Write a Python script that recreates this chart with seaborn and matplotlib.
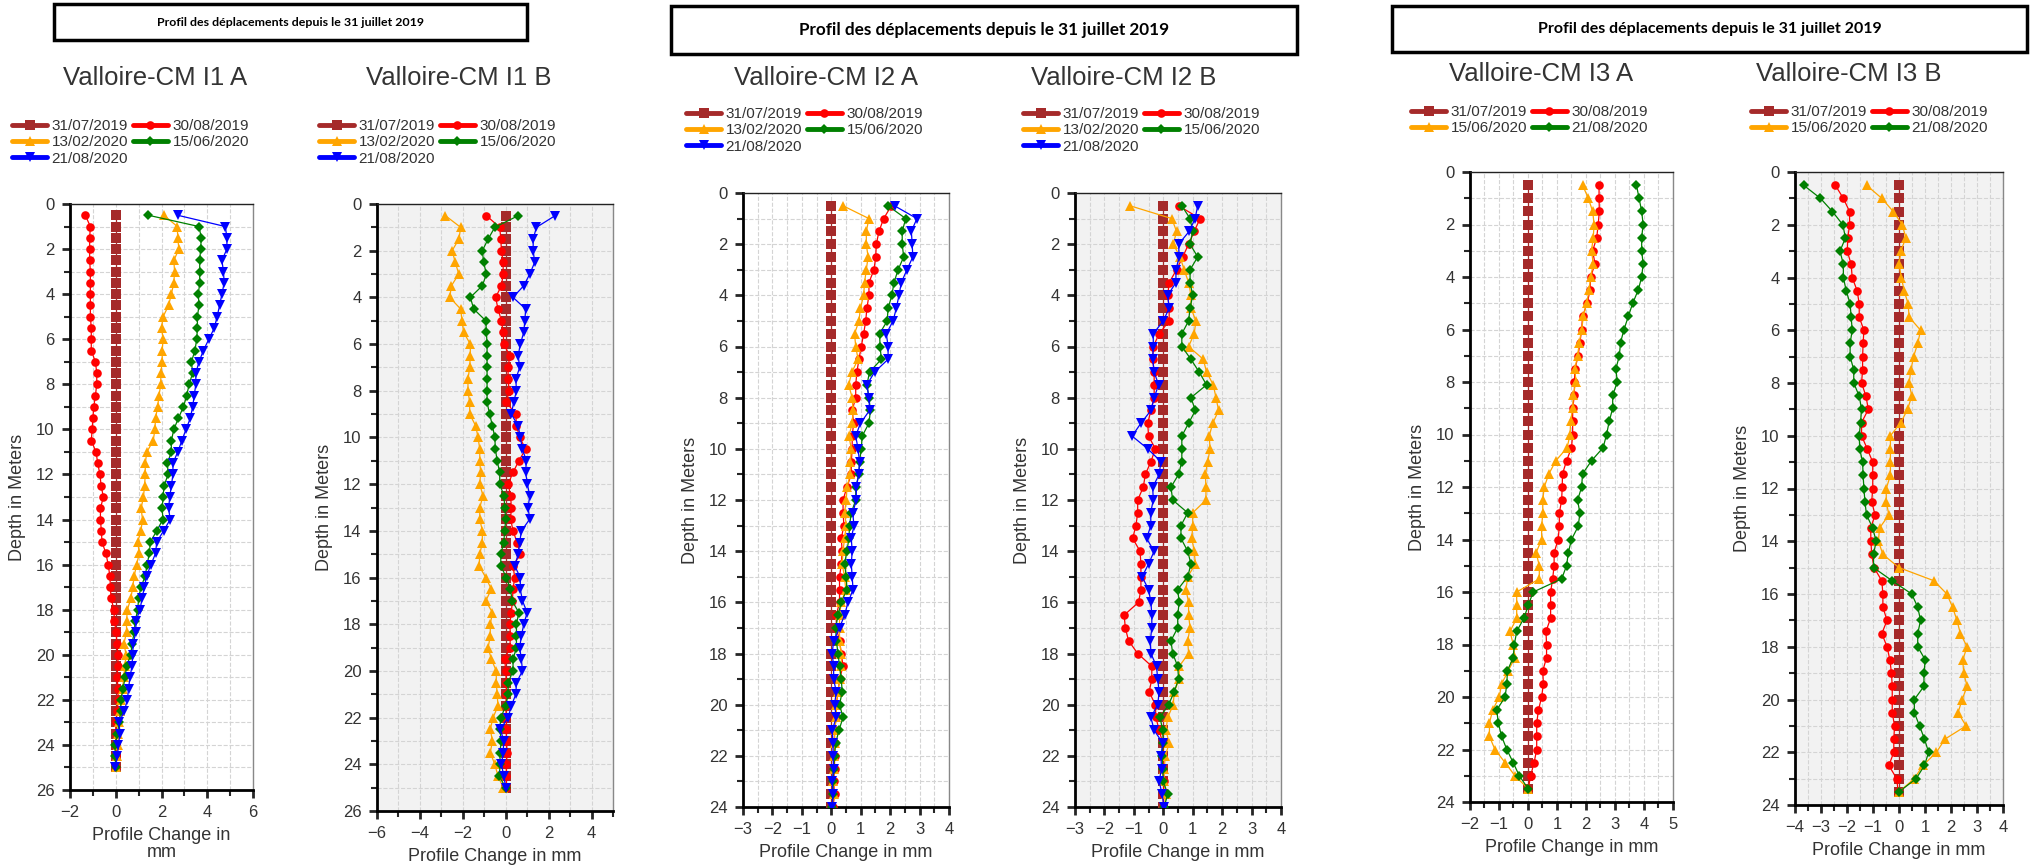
import numpy as np
import pandas as pd
import matplotlib
matplotlib.use('Agg')
import matplotlib.pyplot as plt
import seaborn as sns
from matplotlib.lines import Line2D
from matplotlib.patches import Rectangle
from matplotlib.ticker import MultipleLocator

sns.set_style('white')
plt.rcParams['font.family'] = ['Liberation Sans', 'DejaVu Sans']

W, H = 2031, 867

# measurement depths (m)
depth_i1 = np.arange(0.5, 25.01, 0.5)
depth_i2 = np.arange(0.5, 24.01, 0.5)
depth_i3 = np.arange(0.5, 23.51, 0.5)

dates_5 = ['31/07/2019', '30/08/2019', '13/02/2020', '15/06/2020', '21/08/2020']
dates_4 = ['31/07/2019', '30/08/2019', '15/06/2020', '21/08/2020']

# ---- I1 A ----
red_1a = [-1.33, -1.11, -1.14, -1.14, -1.14, -1.11, -1.11, -1.11, -1.11, -1.11,
          -1.07, -1.07, -1.07, -0.89, -0.83, -0.83, -0.89, -0.96, -1.0, -1.03,
          -1.07, -0.86, -0.79, -0.69, -0.64, -0.54, -0.67, -0.67, -0.63, -0.6,
          -0.43, -0.33, -0.26, -0.23, -0.21, -0.07, -0.07, 0.03, 0.04, 0.1,
          0.09, 0.06, 0.1, 0.1, 0.07, 0.0, 0.0, 0.0, 0.0, 0.0]
orange_1a = [2.11, 2.69, 2.71, 2.76, 2.54, 2.57, 2.54, 2.43, 2.31, 2.07,
             2.0, 2.07, 2.03, 2.03, 1.97, 1.97, 1.89, 1.83, 1.74, 1.71,
             1.64, 1.36, 1.29, 1.29, 1.26, 1.21, 1.11, 1.17, 1.1, 0.96,
             1.03, 0.91, 0.81, 0.74, 0.66, 0.51, 0.47, 0.47, 0.36, 0.45,
             0.4, 0.35, 0.3, 0.25, 0.2, 0.15, 0.12, 0.1, 0.05, 0.0]
green_1a = [1.43, 3.64, 3.74, 3.71, 3.67, 3.67, 3.67, 3.61, 3.64, 3.57,
            3.57, 3.54, 3.46, 3.31, 3.36, 3.21, 3.1, 2.96, 2.74, 2.54,
            2.43, 2.43, 2.26, 2.29, 2.11, 2.07, 2.03, 2.06, 1.79, 1.51,
            1.47, 1.37, 1.29, 1.1, 1.0, 0.96, 0.85, 0.81, 0.71, 0.66,
            0.47, 0.41, 0.32, 0.22, 0.22, 0.15, 0.07, -0.03, -0.03, 0.0]
blue_1a = [2.71, 4.79, 4.86, 4.86, 4.64, 4.71, 4.74, 4.64, 4.54, 4.43,
           4.31, 4.07, 3.83, 3.64, 3.5, 3.5, 3.43, 3.36, 3.26, 3.07,
           2.89, 2.71, 2.5, 2.5, 2.43, 2.36, 2.31, 2.38, 2.09, 1.79,
           1.74, 1.54, 1.35, 1.25, 1.15, 1.06, 0.88, 0.88, 0.76, 0.74,
           0.71, 0.62, 0.56, 0.51, 0.37, 0.15, 0.18, 0.12, 0.07, -0.03]

# ---- I1 B ----
red_1b = [-0.9, -0.28, -0.23, -0.2, -0.12, -0.12, -0.2, -0.47, -0.36, -0.2,
          -0.12, -0.09, 0.19, 0.11, 0.11, 0.16, 0.03, 0.47, 0.5, 0.65,
          0.93, 0.61, 0.34, 0.11, 0.23, 0.26, 0.23, 0.34, 0.53, 0.68,
          0.34, 0.42, 0.34, 0.31, 0.26, 0.19, 0.22, 0.19, -0.05, 0.0,
          0.03, 0.03, 0.0, 0.03, 0.03, 0.03, 0.06, 0.03, 0.03, 0.03]
orange_1b = [-2.81, -2.1, -2.18, -2.5, -2.35, -2.19, -2.53, -2.61, -2.1, -2.04,
             -1.96, -1.65, -1.65, -1.68, -1.76, -1.76, -1.68, -1.68, -1.4, -1.29,
             -1.21, -1.21, -1.17, -1.21, -1.06, -1.21, -1.21, -1.09, -1.09, -1.21,
             -1.24, -0.93, -0.67, -0.93, -0.62, -0.72, -0.72, -0.82, -0.67, -0.44,
             -0.44, -0.4, -0.36, -0.59, -0.72, -0.62, -0.72, -0.51, -0.36, -0.12]
green_1b = [0.58, -0.51, -0.82, -1.09, -1.03, -0.9, -1.09, -1.65, -1.49, -0.93,
            -0.9, -0.87, -0.87, -0.87, -0.87, -0.87, -0.87, -0.75, -0.62, -0.51,
            -0.48, -0.4, -0.28, -0.28, -0.08, -0.05, 0.0, -0.05, -0.09, -0.23,
            -0.23, 0.03, 0.22, 0.3, 0.61, 0.5, 0.5, 0.5, 0.34, 0.34,
            0.11, 0.11, 0.0, -0.23, -0.28, -0.2, -0.28, -0.25, -0.31, 0.0]
blue_1b = [2.3, 1.43, 1.28, 1.28, 1.35, 1.12, 0.84, 0.34, 0.93, 0.89,
           0.84, 0.68, 0.58, 0.65, 0.47, 0.5, 0.37, 0.26, 0.58, 0.68,
           0.78, 0.96, 0.93, 1.01, 1.12, 1.04, 1.12, 0.73, 0.65, 0.58,
           0.42, 0.68, 0.68, 0.78, 1.0, 0.84, 0.73, 0.65, 0.73, 0.78,
           0.5, 0.47, 0.26, 0.11, -0.25, -0.09, -0.12, -0.2, -0.09, 0.0]

# ---- I2 A ----
red_2a = [2.04, 1.78, 1.62, 1.53, 1.51, 1.45, 1.28, 1.28, 1.21, 1.17,
          1.1, 1.02, 0.94, 0.87, 0.83, 0.83, 0.71, 0.76, 0.71, 0.71,
          0.68, 0.68, 0.53, 0.4, 0.4, 0.43, 0.34, 0.37, 0.34, 0.28,
          0.28, 0.28, 0.17, 0.17, 0.28, 0.34, 0.4, 0.28, 0.23, 0.17,
          0.17, 0.11, 0.11, 0.11, 0.11, 0.08, 0.11, 0.06]
orange_2a = [0.4, 1.28, 1.19, 1.19, 1.25, 1.19, 1.13, 1.1, 0.99, 0.94,
             0.79, 0.83, 0.91, 0.7, 0.59, 0.71, 0.74, 0.71, 0.6, 0.68,
             0.65, 0.65, 0.53, 0.51, 0.45, 0.51, 0.45, 0.4, 0.37, 0.45,
             0.49, 0.34, 0.28, 0.28, 0.28, 0.34, 0.34, 0.28, 0.23, 0.17,
             0.17, 0.11, 0.11, 0.08, 0.08, 0.06, 0.08, 0.03]
green_2a = [1.93, 2.53, 2.41, 2.41, 2.46, 2.27, 2.13, 2.06, 1.93, 1.9,
            1.64, 1.66, 1.7, 1.3, 1.21, 1.28, 1.33, 1.28, 1.05, 1.02,
            0.96, 0.94, 0.83, 0.83, 0.68, 0.62, 0.6, 0.53, 0.45, 0.51,
            0.53, 0.34, 0.23, 0.15, 0.17, 0.23, 0.28, 0.34, 0.37, 0.28,
            0.4, 0.26, 0.15, 0.11, 0.08, 0.06, 0.06, 0.03]
blue_2a = [2.15, 2.91, 2.72, 2.75, 2.77, 2.57, 2.38, 2.3, 2.21, 2.1,
           1.87, 1.93, 1.93, 1.47, 1.21, 1.28, 1.3, 0.99, 0.83, 0.91,
           0.96, 0.93, 0.85, 0.85, 0.73, 0.77, 0.68, 0.71, 0.68, 0.71,
           0.74, 0.57, 0.45, 0.28, 0.08, 0.03, 0.08, 0.08, 0.17, 0.11,
           0.17, 0.03, 0.06, 0.06, 0.08, 0.03, 0.06, 0.03]

# ---- I2 B ----
red_2b = [0.52, 1.25, 1.05, 0.86, 0.66, 0.45, 0.2, 0.15, 0.2, 0.2,
          -0.14, -0.34, -0.36, -0.31, -0.31, -0.31, -0.42, -0.53, -0.5, -0.27,
          -0.42, -0.61, -0.68, -0.87, -0.87, -0.93, -1.04, -0.79, -0.76, -0.76,
          -0.76, -0.84, -1.33, -1.29, -1.18, -0.87, -0.39, -0.39, -0.48, -0.27,
          -0.25, -0.14, -0.02, 0.0, -0.02, 0.03, 0.0, 0.0]
orange_2b = [-1.13, 0.29, 0.45, 0.34, 0.57, 0.71, 0.86, 0.94, 0.94, 1.11,
             1.05, 0.86, 1.36, 1.47, 1.7, 1.79, 1.88, 1.68, 1.56, 1.59,
             1.51, 1.43, 1.45, 1.45, 1.0, 1.0, 0.97, 1.05, 1.09, 0.83,
             0.77, 0.86, 0.86, 0.91, 0.83, 0.86, 0.54, 0.54, 0.37, 0.34,
             0.15, 0.09, 0.2, 0.07, 0.03, 0.03, 0.09, 0.03]
green_2b = [0.63, 0.91, 1.0, 0.91, 1.17, 0.91, 0.91, 1.0, 0.91, 0.86,
            0.63, 0.63, 0.94, 1.22, 1.47, 0.94, 1.09, 0.86, 0.63, 0.63,
            0.63, 0.52, 0.26, 0.32, 0.83, 0.6, 0.6, 0.83, 0.94, 0.83,
            0.49, 0.54, 0.49, 0.49, 0.26, 0.32, 0.49, 0.52, 0.37, 0.18,
            -0.11, -0.02, 0.0, -0.04, -0.02, 0.0, 0.15, 0.03]
blue_2b = [1.17, 1.08, 0.88, 0.52, 0.54, 0.43, 0.43, 0.15, 0.2, 0.0,
           -0.34, -0.34, -0.36, -0.31, -0.16, -0.31, -0.42, -0.76, -1.06, -0.53,
           -0.08, -0.14, -0.36, -0.34, -0.43, -0.42, -0.57, -0.31, -0.5, -0.72,
           -0.5, -0.42, -0.39, -0.39, -0.44, -0.42, -0.23, -0.19, -0.14, -0.19,
           -0.42, -0.31, -0.02, -0.08, -0.06, -0.14, -0.04, 0.03]

# ---- I3 A ----
red_3a = [2.45, 2.45, 2.46, 2.42, 2.37, 2.23, 2.31, 2.16, 2.14, 2.04,
          1.88, 1.85, 1.79, 1.73, 1.62, 1.6, 1.6, 1.54, 1.54, 1.54,
          1.5, 1.33, 1.19, 1.18, 1.16, 1.08, 1.08, 1.04, 0.9, 0.9,
          0.85, 0.78, 0.78, 0.78, 0.62, 0.64, 0.64, 0.51, 0.53, 0.47,
          0.36, 0.3, 0.3, 0.3, 0.21, 0.09, 0.01]
orange_3a = [1.88, 2.08, 2.23, 2.28, 2.25, 2.19, 2.25, 2.16, 2.11, 2.02,
             1.91, 1.85, 1.77, 1.71, 1.62, 1.65, 1.56, 1.54, 1.47, 1.45,
             1.35, 0.96, 0.72, 0.56, 0.51, 0.51, 0.47, 0.47, 0.28, 0.39,
             0.39, -0.39, -0.39, -0.39, -0.62, -0.51, -0.45, -0.68, -0.91, -0.99,
             -1.22, -1.33, -1.33, -1.14, -0.79, -0.45, 0.01]
green_3a = [3.74, 3.83, 3.92, 3.97, 3.92, 3.92, 3.97, 3.92, 3.8, 3.61,
            3.46, 3.31, 3.19, 3.15, 3.03, 3.08, 2.92, 2.92, 2.8, 2.71,
            2.59, 2.19, 1.88, 1.85, 1.71, 1.79, 1.73, 1.5, 1.39, 1.33,
            1.16, 0.18, 0.01, -0.14, -0.39, -0.47, -0.51, -0.71, -0.73, -0.79,
            -1.08, -1.02, -0.91, -0.73, -0.51, -0.3, 0.01]

# ---- I3 B ----
red_3b = [-2.45, -2.14, -1.9, -1.9, -1.97, -1.99, -1.84, -1.8, -1.61, -1.53,
          -1.53, -1.35, -1.38, -1.4, -1.4, -1.44, -1.27, -1.18, -1.44, -1.44,
          -1.22, -1.01, -1.01, -1.01, -1.05, -0.92, -1.09, -1.08, -1.05, -0.96,
          -0.66, -0.62, -0.62, -0.46, -0.66, -0.46, -0.35, -0.29, -0.26, -0.26,
          -0.26, -0.17, -0.2, -0.2, -0.39, -0.09, -0.03]
orange_3b = [-1.25, -0.66, -0.22, 0.13, 0.26, 0.07, 0.0, 0.09, 0.2, 0.35,
             0.39, 0.83, 0.72, 0.56, 0.46, 0.39, 0.49, 0.33, 0.07, -0.33,
             -0.33, -0.33, -0.33, -0.49, -0.49, -0.39, -0.75, -0.79, -0.62, 0.0,
             1.35, 1.84, 2.06, 2.23, 2.36, 2.62, 2.45, 2.49, 2.62, 2.43,
             2.27, 2.58, 1.77, 1.44, 0.92, 0.59, 0.0]
green_3b = [-3.67, -3.02, -2.56, -2.16, -2.06, -2.27, -2.14, -2.14, -2.03, -1.88,
            -1.84, -1.8, -1.88, -1.88, -1.74, -1.74, -1.53, -1.44, -1.48, -1.53,
            -1.51, -1.4, -1.38, -1.35, -1.31, -1.25, -1.01, -0.88, -0.98, -0.98,
            -0.26, 0.49, 0.72, 0.83, 0.72, 0.72, 1.01, 0.96, 0.96, 0.59,
            0.59, 0.79, 0.98, 1.14, 0.98, 0.66, 0.0]

STY = {
    'brown':  dict(color='#a52a2a', marker='s', markersize=7.8),
    'red':    dict(color='#ff0000', marker='o', markersize=6.2),
    'orange': dict(color='#ffa500', marker='^', markersize=7.0),
    'green':  dict(color='#008000', marker='D', markersize=4.8),
    'blue':   dict(color='#0000ff', marker='v', markersize=7.0),
}

fig = plt.figure(figsize=(W / 100, H / 100), dpi=100)
TXT = '#333333'


def panel(px, xlim, xmaj, xmin_, ymax, depth, series, labels, face,
          title, title_x, title_y, leg_x, leg_y, xlabel):
    l, t, r, b = px
    ax = fig.add_axes([l / W, 1 - b / H, (r - l) / W, (b - t) / H])
    ax.set_facecolor(face)
    handles = []
    for key, vals in series:
        st = STY[key]
        sns.lineplot(x=vals, y=depth, ax=ax, sort=False, estimator=None,
                     orient='y', lw=0.9, markeredgewidth=0, legend=False,
                     zorder=3, **st)
        handles.append(Line2D([], [], lw=3.5, markeredgewidth=0, **st))
    ax.set_xlim(*xlim)
    ax.set_ylim(ymax, 0)
    ax.xaxis.set_major_locator(MultipleLocator(xmaj))
    ax.xaxis.set_minor_locator(MultipleLocator(xmin_))
    ax.yaxis.set_major_locator(MultipleLocator(2))
    ax.yaxis.set_minor_locator(MultipleLocator(1))
    ax.grid(which='both', ls='--', lw=0.8, color='#d4d4d4')
    ax.set_axisbelow(True)
    ax.tick_params(which='major', direction='out', length=6, width=2,
                   labelsize=12, pad=5, labelcolor=TXT, left=True, bottom=True)
    ax.tick_params(which='minor', direction='out', length=4, width=1.5,
                   left=True, bottom=True)
    for s in ['left', 'bottom']:
        ax.spines[s].set_linewidth(2)
        ax.spines[s].set_color('black')
    ax.spines['top'].set_linewidth(1)
    ax.spines['top'].set_color('#222222')
    ax.spines['right'].set_linewidth(1)
    ax.spines['right'].set_color('#888888')
    ax.set_xlabel(xlabel, fontsize=13, color=TXT, labelpad=5, linespacing=1.0)
    ax.set_ylabel('Depth in Meters', fontsize=13, color=TXT)
    ax.yaxis.set_label_coords(-44 / (r - l), 0.5)
    fig.text(title_x / W, 1 - title_y / H, title, fontsize=18.5, color=TXT,
             ha='center', va='center')
    n = len(handles)
    order = list(range(0, n, 2)) + list(range(1, n, 2))
    ax.legend([handles[i] for i in order], [labels[i] for i in order],
              ncol=2, loc='upper left', bbox_to_anchor=(leg_x / W, 1 - leg_y / H),
              bbox_transform=fig.transFigure, frameon=False, fontsize=11,
              handlelength=2.3, handletextpad=0.3, columnspacing=0.3,
              labelspacing=0.15, borderpad=0, borderaxespad=0,
              labelcolor=TXT)
    return ax


five = lambda b, r, o, g, u: [('brown', b), ('red', r), ('orange', o), ('green', g), ('blue', u)]
four = lambda b, r, o, g: [('brown', b), ('red', r), ('orange', o), ('green', g)]

zero_i1 = [0.0] * len(depth_i1)
zero_i2 = [0.0] * len(depth_i2)
zero_i3 = [0.0] * len(depth_i3)

panel((70, 204, 253, 790), (-2, 6), 2, 1, 26, depth_i1,
      five(zero_i1, red_1a, orange_1a, green_1a, blue_1a), dates_5, 'white',
      'Valloire-CM I1 A', 155, 78, 12, 119, 'Profile Change in\nmm')
panel((377, 204, 613, 811), (-6, 5), 2, 1, 26, depth_i1,
      five(zero_i1, red_1b, orange_1b, green_1b, blue_1b), dates_5, '#f2f2f2',
      'Valloire-CM I1 B', 459, 78, 319, 119, 'Profile Change in mm')
panel((743, 193, 949, 807), (-3, 4), 1, 0.5, 24, depth_i2,
      five(zero_i2, red_2a, orange_2a, green_2a, blue_2a), dates_5, 'white',
      'Valloire-CM I2 A', 826, 78, 686, 107, 'Profile Change in mm')
panel((1075, 193, 1281, 807), (-3, 4), 1, 0.5, 24, depth_i2,
      five(zero_i2, red_2b, orange_2b, green_2b, blue_2b), dates_5, '#f2f2f2',
      'Valloire-CM I2 B', 1124, 78, 1023, 107, 'Profile Change in mm')
panel((1470, 172, 1673, 802), (-2, 5), 1, 0.5, 24, depth_i3,
      four(zero_i3, red_3a, orange_3a, green_3a), dates_4, 'white',
      'Valloire-CM I3 A', 1541, 74, 1411, 105, 'Profile Change in mm')
panel((1795, 172, 2003, 805), (-4, 4), 1, 0.5, 24, depth_i3,
      four(zero_i3, red_3b, orange_3b, green_3b), dates_4, '#f2f2f2',
      'Valloire-CM I3 B', 1849, 74, 1751, 105, 'Profile Change in mm')

# header boxes
for (x0, y0, x1, y1, fs) in [(54, 4, 527, 40, 8.9), (671, 6, 1297, 54, 12.3), (1392, 6, 2027, 52, 11.5)]:
    fig.add_artist(Rectangle((x0 / W, 1 - y1 / H), (x1 - x0) / W, (y1 - y0) / H,
                             transform=fig.transFigure, fill=False, lw=2.5, ec='black'))
    fig.text((x0 + x1) / 2 / W, 1 - (y0 + y1) / 2 / H,
             'Profil des déplacements depuis le 31 juillet 2019',
             fontsize=fs, fontweight='bold', family=['Lato', 'DejaVu Sans'],
             ha='center', va='center', color='black')

fig.savefig('out.png', dpi=100)
